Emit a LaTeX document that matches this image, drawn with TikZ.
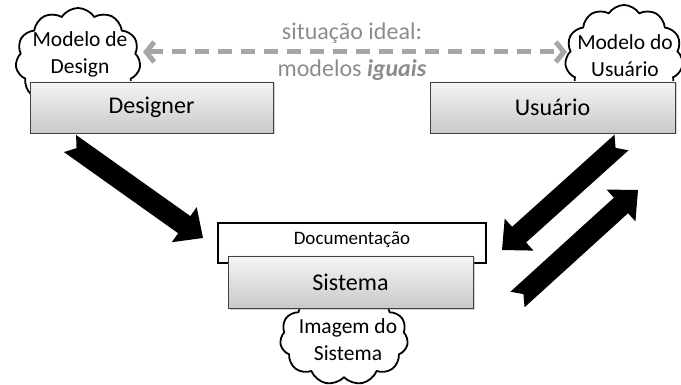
\documentclass[tikz,border=0pt]{standalone}
\usepackage{fontspec}
\setmainfont{Carlito}
\usetikzlibrary{shapes.symbols,shadows,calc,arrows.meta}

\definecolor{boxedge}{HTML}{404040}
\definecolor{idealgray}{HTML}{8C8C8C}
\definecolor{dashgray}{HTML}{A6A6A6}

% notched block arrow from tail #1 to tip #2
\newcommand\blockarrow[2]{%
  \coordinate (ba-h) at ($(#2)!23pt!(#1)$);
  \fill[black]
    ($(#1)!10.5pt!90:(#2)$) -- ($(ba-h)!10.5pt!90:(#2)$) --
    ($(ba-h)!21.5pt!90:(#2)$) -- (#2) --
    ($(ba-h)!21.5pt!-90:(#2)$) -- ($(ba-h)!10.5pt!-90:(#2)$) --
    ($(#1)!10.5pt!-90:(#2)$) -- ($(#1)!8pt!(#2)$) -- cycle;
}

\tikzset{
  actor/.style={draw=boxedge, line width=0.8pt, top color=gray!8, bottom color=gray!42,
    drop shadow={opacity=0.35, shadow xshift=1.5pt, shadow yshift=-1.5pt},
    inner sep=0, font=\fontsize{24}{28}\selectfont},
  thought/.style={cloud, cloud puffs=11, cloud puff arc=115, draw=black, line width=1.8pt,
    fill=white, inner sep=0},
  thoughttext/.style={align=center, font=\fontsize{21.5}{27}\selectfont, inner sep=0},
  idealtext/.style={text=idealgray, font=\fontsize{24}{28}\selectfont, inner sep=0},
}

\begin{document}
\begin{tikzpicture}[x=1pt, y=-1pt]
  \useasboundingbox (0,0) rectangle (681,385);

  % mental models (clouds sit behind the boxes)
  \node[thought, minimum width=125pt, minimum height=104pt] (cdesign) at (78,60) {};
  \node[thought, minimum width=118pt, minimum height=106pt] (cuser) at (624,58) {};
  \node[thought, minimum width=128pt, minimum height=94pt] (csys) at (344,338) {};

  \node[thoughttext] (tdesign) at (80,54) {Modelo de\\Design};
  \node[thoughttext] (tuser) at (625,56) {Modelo do\\Usuário};
  \node[thoughttext] (tsys) at (348,340) {Imagem do\\Sistema};

  % participants
  \node[actor, minimum width=243pt, minimum height=51pt] (designer) at (151.5,107.5) {Designer};
  \node[actor, minimum width=245pt, minimum height=51pt] (usuario) at (552.5,107.5) {Usuário};

  % system and its documentation
  \node[draw=black, line width=2pt, fill=white, minimum width=268pt, minimum height=40pt,
    inner sep=0, font=\fontsize{19}{22}\selectfont, text depth=0pt] (doc) at (352,243) {};
  \node[inner sep=0, font=\fontsize{19}{22}\selectfont] (doctext) at (352,240) {Documentação};
  \node[actor, minimum width=245pt, minimum height=52pt] (sistema) at (350.5,282) {Sistema};

  % ideal situation: both models equal
  \coordinate (ideall) at (143,52);
  \coordinate (idealr) at (567,52);
  \draw[dashgray, line width=5pt, dash pattern=on 14pt off 9pt,
    {Straight Barb[length=8pt,width=20pt]}-{Straight Barb[length=8pt,width=20pt]}]
    (ideall) -- (idealr);
  \node[idealtext] (ideal1) at (352,33) {situação ideal:};
  \node[idealtext] (ideal2) at (352,70) {modelos \textbf{\textit{iguais}}};

  % flows between designer, system and user
  \coordinate (a1s) at (70,143.5);
  \coordinate (a1e) at (203,238);
  \coordinate (a2s) at (621.5,142.5);
  \coordinate (a2e) at (502,250);
  \coordinate (a3s) at (517.5,299.5);
  \coordinate (a3e) at (638,190);
  \blockarrow{a1s}{a1e}
  \blockarrow{a2s}{a2e}
  \blockarrow{a3s}{a3e}
\end{tikzpicture}
\end{document}
